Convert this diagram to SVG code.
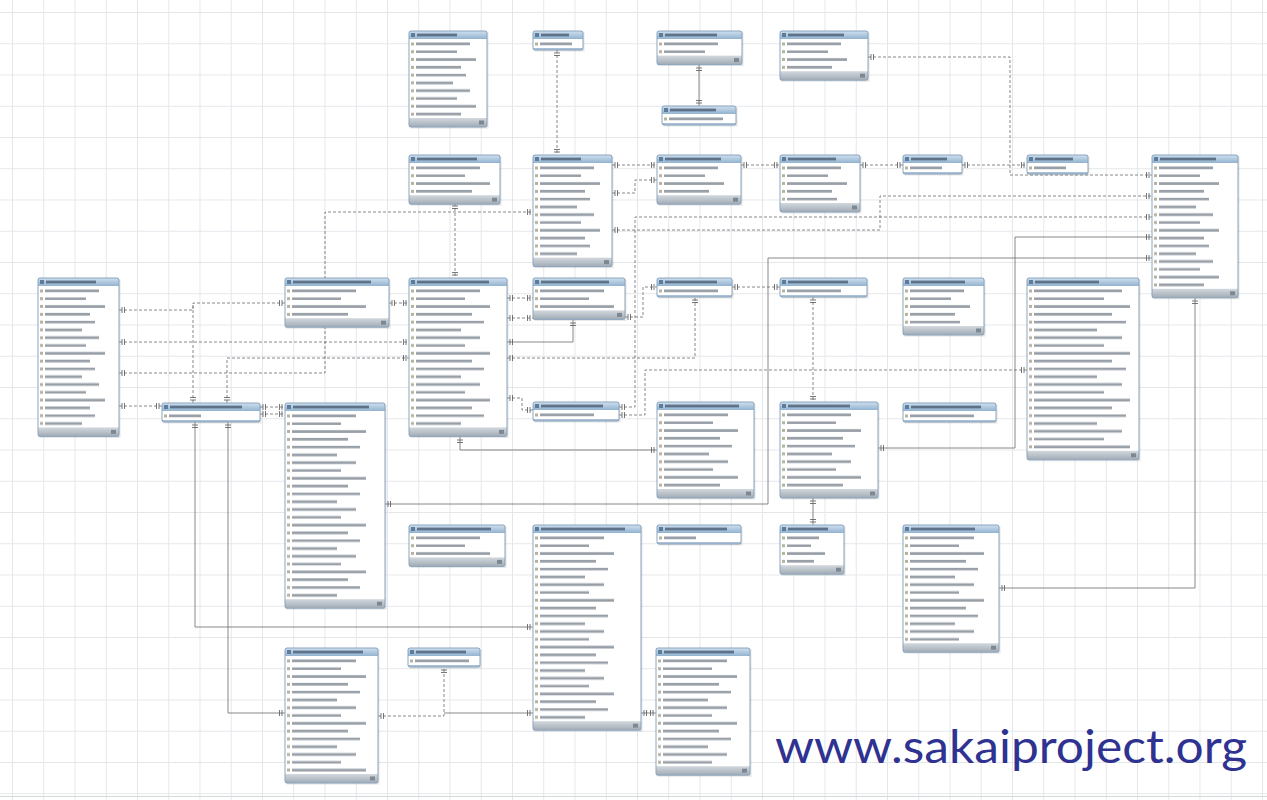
<svg xmlns="http://www.w3.org/2000/svg" width="1267" height="800" viewBox="0 0 1267 800">
<defs>
<pattern id="grid" patternUnits="userSpaceOnUse" x="12" y="12" width="31.25" height="31.25"><path d="M0,0.5H31.25M0.5,0V31.25" fill="none" stroke="#e4e7ea" stroke-width="1"/></pattern>
<linearGradient id="gh" x1="0" y1="0" x2="0" y2="1"><stop offset="0" stop-color="#cfe0ef"/><stop offset="1" stop-color="#93b3d0"/></linearGradient>
<linearGradient id="gf" x1="0" y1="0" x2="0" y2="1"><stop offset="0" stop-color="#d2d8dd"/><stop offset="1" stop-color="#a1abb5"/></linearGradient>
<pattern id="rS" patternUnits="userSpaceOnUse" x="0" y="9" width="200" height="46.8"><path class="ic" d="M2,2.4h3v3h-3zM2,10.2h3v3h-3zM2,18h3v3h-3zM2,25.8h3v3h-3zM2,33.6h3v3h-3zM2,41.4h3v3h-3z"/><path class="tx" d="M7,2.6h32v2.6h-32zM7,10.4h24v2.6h-24zM7,18.2h38v2.6h-38zM7,26h27v2.6h-27zM7,33.8h35v2.6h-35zM7,41.6h21v2.6h-21z"/></pattern>
<pattern id="rM" patternUnits="userSpaceOnUse" x="0" y="9" width="200" height="46.8"><path class="ic" d="M2,2.4h3v3h-3zM2,10.2h3v3h-3zM2,18h3v3h-3zM2,25.8h3v3h-3zM2,33.6h3v3h-3zM2,41.4h3v3h-3z"/><path class="tx" d="M7,2.6h54v2.6h-54zM7,10.4h41v2.6h-41zM7,18.2h60v2.6h-60zM7,26h45v2.6h-45zM7,33.8h50v2.6h-50zM7,41.6h37v2.6h-37z"/></pattern>
<pattern id="rL" patternUnits="userSpaceOnUse" x="0" y="9" width="200" height="46.8"><path class="ic" d="M2,2.4h3v3h-3zM2,10.2h3v3h-3zM2,18h3v3h-3zM2,25.8h3v3h-3zM2,33.6h3v3h-3zM2,41.4h3v3h-3z"/><path class="tx" d="M7,2.6h64v2.6h-64zM7,10.4h49v2.6h-49zM7,18.2h74v2.6h-74zM7,26h56v2.6h-56zM7,33.8h68v2.6h-68zM7,41.6h45v2.6h-45z"/></pattern>
<pattern id="rX" patternUnits="userSpaceOnUse" x="0" y="9" width="200" height="46.8"><path class="ic" d="M2,2.4h3v3h-3zM2,10.2h3v3h-3zM2,18h3v3h-3zM2,25.8h3v3h-3zM2,33.6h3v3h-3zM2,41.4h3v3h-3z"/><path class="tx" d="M7,2.6h88v2.6h-88zM7,10.4h70v2.6h-70zM7,18.2h96v2.6h-96zM7,26h78v2.6h-78zM7,33.8h92v2.6h-92zM7,41.6h63v2.6h-63z"/></pattern>
<marker id="mk" markerUnits="userSpaceOnUse" markerWidth="12" markerHeight="10" viewBox="-10 -5 12 10" refX="0" refY="0" orient="auto-start-reverse"><path d="M-3,-3V3M-5.5,-3V3" fill="none" stroke="#555" stroke-width=".8"/></marker>
<style>
.ic{fill:#b8b29c}
.tx{fill:#989fa7}
.sh{fill:#000;opacity:.1}
.bd{fill:#fff}
.hd{fill:url(#gh)}
.hi{fill:#5d7c9b}
.tt{fill:#3a4f66;opacity:.7}
.ft{fill:url(#gf)}
.fi{fill:#7e8893}
.fb{fill:#a9c0d6}
.ol{fill:none;stroke:#8aa4be;stroke-width:1}
.c{fill:none;stroke:#6b6b6b;stroke-width:.8;marker-start:url(#mk);marker-end:url(#mk)}
.d{stroke-dasharray:3 2}
.ns{marker-end:none}
.nb{marker-start:none}
</style>
</defs>
<rect width="1267" height="800" fill="#fff"/>
<rect width="1267" height="800" fill="url(#grid)"/>
<line x1="0" y1="796.5" x2="1267" y2="796.5" stroke="#d5d8db" stroke-width="1"/>

<g id="connectors">
<path class="c d" d="M557,50V155"/>
<path class="c" d="M699,65V106"/>
<path class="c d" d="M868,57H1010V175H1152"/>
<path class="c d" d="M612,165H657"/>
<path class="c d" d="M741,165H780"/>
<path class="c d" d="M860,165H903"/>
<path class="c d" d="M962,165H1027"/>
<path class="c d" d="M612,193H635V180H657"/>
<path class="c d" d="M612,230H880V196H1152"/>
<path class="c d" d="M619,407H635V217H1152"/>
<path class="c" d="M878,448H1015V237H1152"/>
<path class="c" d="M385,504H768V258H1152"/>
<path class="c d" d="M455,203V278"/>
<path class="c d" d="M119,373H325V212H533"/>
<path class="c d" d="M119,310H193V303H285"/>
<path class="c d ns" d="M193,403V303"/>
<path class="c d" d="M119,342H409"/>
<path class="c d" d="M227,403V358H409"/>
<path class="c d" d="M119,406H162"/>
<path class="c d" d="M260,407H285"/>
<path class="c d" d="M260,414H285"/>
<path class="c d" d="M389,303H409"/>
<path class="c" d="M195,422V627H533"/>
<path class="c" d="M228,422V713H285"/>
<path class="c d" d="M378,716H444V667"/>
<path class="c nb" d="M444,713H533"/>
<path class="c" d="M641,713H656"/>
<path class="c" d="M507,342H573V320"/>
<path class="c d" d="M507,358H695V297"/>
<path class="c d" d="M507,298H533"/>
<path class="c d" d="M507,318H533"/>
<path class="c d" d="M507,398H522V410H533"/>
<path class="c" d="M460,437V450H657"/>
<path class="c d" d="M625,317H643V287H657"/>
<path class="c d" d="M619,415H645V370H1027"/>
<path class="c d" d="M732,287H780"/>
<path class="c d" d="M813,297V402"/>
<path class="c" d="M813,498V525"/>
<path class="c" d="M1195,298V588H999"/>
</g>

<g id="t1" transform="translate(409,31)"><rect class="sh" x="1.5" y="1.5" width="78" height="96"/><rect class="bd" width="78" height="96"/><rect class="hd" width="78" height="8"/><rect class="hi" x="2" y="2" width="4" height="4"/><rect class="tt" x="8" y="2.6" width="40" height="2.8"/><rect fill="url(#rM)" x="1" y="9" width="76" height="78"/><rect class="ft" y="87" width="78" height="9"/><rect class="fi" x="70" y="89.5" width="5" height="4"/><rect class="ol" width="78" height="96" rx="2"/></g>
<g id="t2" transform="translate(533,31)"><rect class="sh" x="1.5" y="1.5" width="50" height="19"/><rect class="bd" width="50" height="19"/><rect class="hd" width="50" height="8"/><rect class="hi" x="2" y="2" width="4" height="4"/><rect class="tt" x="8" y="2.6" width="28" height="2.8"/><rect fill="url(#rS)" x="1" y="9" width="48" height="7.8"/><rect class="fb" y="17" width="50" height="2"/><rect class="ol" width="50" height="19" rx="2"/></g>
<g id="t3" transform="translate(657,31)"><rect class="sh" x="1.5" y="1.5" width="85" height="33.6"/><rect class="bd" width="85" height="33.6"/><rect class="hd" width="85" height="8"/><rect class="hi" x="2" y="2" width="4" height="4"/><rect class="tt" x="8" y="2.6" width="52" height="2.8"/><rect fill="url(#rM)" x="1" y="9" width="83" height="15.6"/><rect class="ft" y="24.6" width="85" height="9"/><rect class="fi" x="77" y="27.1" width="5" height="4"/><rect class="ol" width="85" height="33.6" rx="2"/></g>
<g id="t4" transform="translate(662,106)"><rect class="sh" x="1.5" y="1.5" width="74" height="19"/><rect class="bd" width="74" height="19"/><rect class="hd" width="74" height="8"/><rect class="hi" x="2" y="2" width="4" height="4"/><rect class="tt" x="8" y="2.6" width="46" height="2.8"/><rect fill="url(#rM)" x="1" y="9" width="72" height="7.8"/><rect class="fb" y="17" width="74" height="2"/><rect class="ol" width="74" height="19" rx="2"/></g>
<g id="t5" transform="translate(780,31)"><rect class="sh" x="1.5" y="1.5" width="88" height="49.2"/><rect class="bd" width="88" height="49.2"/><rect class="hd" width="88" height="8"/><rect class="hi" x="2" y="2" width="4" height="4"/><rect class="tt" x="8" y="2.6" width="56" height="2.8"/><rect fill="url(#rM)" x="1" y="9" width="86" height="31.2"/><rect class="ft" y="40.2" width="88" height="9"/><rect class="fi" x="80" y="42.7" width="5" height="4"/><rect class="ol" width="88" height="49.2" rx="2"/></g>
<g id="t6" transform="translate(409,155)"><rect class="sh" x="1.5" y="1.5" width="91" height="49.2"/><rect class="bd" width="91" height="49.2"/><rect class="hd" width="91" height="8"/><rect class="hi" x="2" y="2" width="4" height="4"/><rect class="tt" x="8" y="2.6" width="60" height="2.8"/><rect fill="url(#rL)" x="1" y="9" width="89" height="31.2"/><rect class="ft" y="40.2" width="91" height="9"/><rect class="fi" x="83" y="42.7" width="5" height="4"/><rect class="ol" width="91" height="49.2" rx="2"/></g>
<g id="t7" transform="translate(533,155)"><rect class="sh" x="1.5" y="1.5" width="79" height="111.6"/><rect class="bd" width="79" height="111.6"/><rect class="hd" width="79" height="8"/><rect class="hi" x="2" y="2" width="4" height="4"/><rect class="tt" x="8" y="2.6" width="40" height="2.8"/><rect fill="url(#rM)" x="1" y="9" width="77" height="93.6"/><rect class="ft" y="102.6" width="79" height="9"/><rect class="fi" x="71" y="105.1" width="5" height="4"/><rect class="ol" width="79" height="111.6" rx="2"/></g>
<g id="t8" transform="translate(657,155)"><rect class="sh" x="1.5" y="1.5" width="84" height="49.2"/><rect class="bd" width="84" height="49.2"/><rect class="hd" width="84" height="8"/><rect class="hi" x="2" y="2" width="4" height="4"/><rect class="tt" x="8" y="2.6" width="56" height="2.8"/><rect fill="url(#rM)" x="1" y="9" width="82" height="31.2"/><rect class="ft" y="40.2" width="84" height="9"/><rect class="fi" x="76" y="42.7" width="5" height="4"/><rect class="ol" width="84" height="49.2" rx="2"/></g>
<g id="t9" transform="translate(780,155)"><rect class="sh" x="1.5" y="1.5" width="80" height="57"/><rect class="bd" width="80" height="57"/><rect class="hd" width="80" height="8"/><rect class="hi" x="2" y="2" width="4" height="4"/><rect class="tt" x="8" y="2.6" width="48" height="2.8"/><rect fill="url(#rM)" x="1" y="9" width="78" height="39"/><rect class="ft" y="48" width="80" height="9"/><rect class="fi" x="72" y="50.5" width="5" height="4"/><rect class="ol" width="80" height="57" rx="2"/></g>
<g id="t10" transform="translate(903,155)"><rect class="sh" x="1.5" y="1.5" width="59" height="19"/><rect class="bd" width="59" height="19"/><rect class="hd" width="59" height="8"/><rect class="hi" x="2" y="2" width="4" height="4"/><rect class="tt" x="8" y="2.6" width="36" height="2.8"/><rect fill="url(#rS)" x="1" y="9" width="57" height="7.8"/><rect class="fb" y="17" width="59" height="2"/><rect class="ol" width="59" height="19" rx="2"/></g>
<g id="t11" transform="translate(1027,155)"><rect class="sh" x="1.5" y="1.5" width="61" height="19"/><rect class="bd" width="61" height="19"/><rect class="hd" width="61" height="8"/><rect class="hi" x="2" y="2" width="4" height="4"/><rect class="tt" x="8" y="2.6" width="38" height="2.8"/><rect fill="url(#rS)" x="1" y="9" width="59" height="7.8"/><rect class="fb" y="17" width="61" height="2"/><rect class="ol" width="61" height="19" rx="2"/></g>
<g id="t12" transform="translate(1152,155)"><rect class="sh" x="1.5" y="1.5" width="86" height="142.8"/><rect class="bd" width="86" height="142.8"/><rect class="hd" width="86" height="8"/><rect class="hi" x="2" y="2" width="4" height="4"/><rect class="tt" x="8" y="2.6" width="56" height="2.8"/><rect fill="url(#rM)" x="1" y="9" width="84" height="124.8"/><rect class="ft" y="133.8" width="86" height="9"/><rect class="fi" x="78" y="136.3" width="5" height="4"/><rect class="ol" width="86" height="142.8" rx="2"/></g>
<g id="t13" transform="translate(38,278)"><rect class="sh" x="1.5" y="1.5" width="81" height="158.4"/><rect class="bd" width="81" height="158.4"/><rect class="hd" width="81" height="8"/><rect class="hi" x="2" y="2" width="4" height="4"/><rect class="tt" x="8" y="2.6" width="50" height="2.8"/><rect fill="url(#rM)" x="1" y="9" width="79" height="140.4"/><rect class="ft" y="149.4" width="81" height="9"/><rect class="fi" x="73" y="151.9" width="5" height="4"/><rect class="ol" width="81" height="158.4" rx="2"/></g>
<g id="t14" transform="translate(285,278)"><rect class="sh" x="1.5" y="1.5" width="104" height="49.2"/><rect class="bd" width="104" height="49.2"/><rect class="hd" width="104" height="8"/><rect class="hi" x="2" y="2" width="4" height="4"/><rect class="tt" x="8" y="2.6" width="78" height="2.8"/><rect fill="url(#rL)" x="1" y="9" width="102" height="31.2"/><rect class="ft" y="40.2" width="104" height="9"/><rect class="fi" x="96" y="42.7" width="5" height="4"/><rect class="ol" width="104" height="49.2" rx="2"/></g>
<g id="t15" transform="translate(409,278)"><rect class="sh" x="1.5" y="1.5" width="98" height="158.4"/><rect class="bd" width="98" height="158.4"/><rect class="hd" width="98" height="8"/><rect class="hi" x="2" y="2" width="4" height="4"/><rect class="tt" x="8" y="2.6" width="72" height="2.8"/><rect fill="url(#rL)" x="1" y="9" width="96" height="140.4"/><rect class="ft" y="149.4" width="98" height="9"/><rect class="fi" x="90" y="151.9" width="5" height="4"/><rect class="ol" width="98" height="158.4" rx="2"/></g>
<g id="t16" transform="translate(533,278)"><rect class="sh" x="1.5" y="1.5" width="92" height="41.4"/><rect class="bd" width="92" height="41.4"/><rect class="hd" width="92" height="8"/><rect class="hi" x="2" y="2" width="4" height="4"/><rect class="tt" x="8" y="2.6" width="68" height="2.8"/><rect fill="url(#rL)" x="1" y="9" width="90" height="23.4"/><rect class="ft" y="32.4" width="92" height="9"/><rect class="fi" x="84" y="34.9" width="5" height="4"/><rect class="ol" width="92" height="41.4" rx="2"/></g>
<g id="t17" transform="translate(657,278)"><rect class="sh" x="1.5" y="1.5" width="75" height="19"/><rect class="bd" width="75" height="19"/><rect class="hd" width="75" height="8"/><rect class="hi" x="2" y="2" width="4" height="4"/><rect class="tt" x="8" y="2.6" width="52" height="2.8"/><rect fill="url(#rM)" x="1" y="9" width="73" height="7.8"/><rect class="fb" y="17" width="75" height="2"/><rect class="ol" width="75" height="19" rx="2"/></g>
<g id="t18" transform="translate(780,278)"><rect class="sh" x="1.5" y="1.5" width="87" height="19"/><rect class="bd" width="87" height="19"/><rect class="hd" width="87" height="8"/><rect class="hi" x="2" y="2" width="4" height="4"/><rect class="tt" x="8" y="2.6" width="60" height="2.8"/><rect fill="url(#rM)" x="1" y="9" width="85" height="7.8"/><rect class="fb" y="17" width="87" height="2"/><rect class="ol" width="87" height="19" rx="2"/></g>
<g id="t19" transform="translate(903,278)"><rect class="sh" x="1.5" y="1.5" width="81" height="57"/><rect class="bd" width="81" height="57"/><rect class="hd" width="81" height="8"/><rect class="hi" x="2" y="2" width="4" height="4"/><rect class="tt" x="8" y="2.6" width="54" height="2.8"/><rect fill="url(#rM)" x="1" y="9" width="79" height="39"/><rect class="ft" y="48" width="81" height="9"/><rect class="fi" x="73" y="50.5" width="5" height="4"/><rect class="ol" width="81" height="57" rx="2"/></g>
<g id="t20" transform="translate(1027,278)"><rect class="sh" x="1.5" y="1.5" width="112" height="181.8"/><rect class="bd" width="112" height="181.8"/><rect class="hd" width="112" height="8"/><rect class="hi" x="2" y="2" width="4" height="4"/><rect class="tt" x="8" y="2.6" width="64" height="2.8"/><rect fill="url(#rX)" x="1" y="9" width="110" height="163.8"/><rect class="ft" y="172.8" width="112" height="9"/><rect class="fi" x="104" y="175.3" width="5" height="4"/><rect class="ol" width="112" height="181.8" rx="2"/></g>
<g id="t21" transform="translate(162,403)"><rect class="sh" x="1.5" y="1.5" width="98" height="19"/><rect class="bd" width="98" height="19"/><rect class="hd" width="98" height="8"/><rect class="hi" x="2" y="2" width="4" height="4"/><rect class="tt" x="8" y="2.6" width="72" height="2.8"/><rect fill="url(#rS)" x="1" y="9" width="96" height="7.8"/><rect class="fb" y="17" width="98" height="2"/><rect class="ol" width="98" height="19" rx="2"/></g>
<g id="t22" transform="translate(285,403)"><rect class="sh" x="1.5" y="1.5" width="100" height="205.2"/><rect class="bd" width="100" height="205.2"/><rect class="hd" width="100" height="8"/><rect class="hi" x="2" y="2" width="4" height="4"/><rect class="tt" x="8" y="2.6" width="76" height="2.8"/><rect fill="url(#rL)" x="1" y="9" width="98" height="187.2"/><rect class="ft" y="196.2" width="100" height="9"/><rect class="fi" x="92" y="198.7" width="5" height="4"/><rect class="ol" width="100" height="205.2" rx="2"/></g>
<g id="t23" transform="translate(533,402)"><rect class="sh" x="1.5" y="1.5" width="86" height="19"/><rect class="bd" width="86" height="19"/><rect class="hd" width="86" height="8"/><rect class="hi" x="2" y="2" width="4" height="4"/><rect class="tt" x="8" y="2.6" width="62" height="2.8"/><rect fill="url(#rM)" x="1" y="9" width="84" height="7.8"/><rect class="fb" y="17" width="86" height="2"/><rect class="ol" width="86" height="19" rx="2"/></g>
<g id="t24" transform="translate(657,402)"><rect class="sh" x="1.5" y="1.5" width="97" height="96"/><rect class="bd" width="97" height="96"/><rect class="hd" width="97" height="8"/><rect class="hi" x="2" y="2" width="4" height="4"/><rect class="tt" x="8" y="2.6" width="74" height="2.8"/><rect fill="url(#rL)" x="1" y="9" width="95" height="78"/><rect class="ft" y="87" width="97" height="9"/><rect class="fi" x="89" y="89.5" width="5" height="4"/><rect class="ol" width="97" height="96" rx="2"/></g>
<g id="t25" transform="translate(780,402)"><rect class="sh" x="1.5" y="1.5" width="98" height="96"/><rect class="bd" width="98" height="96"/><rect class="hd" width="98" height="8"/><rect class="hi" x="2" y="2" width="4" height="4"/><rect class="tt" x="8" y="2.6" width="62" height="2.8"/><rect fill="url(#rL)" x="1" y="9" width="96" height="78"/><rect class="ft" y="87" width="98" height="9"/><rect class="fi" x="90" y="89.5" width="5" height="4"/><rect class="ol" width="98" height="96" rx="2"/></g>
<g id="t26" transform="translate(903,403)"><rect class="sh" x="1.5" y="1.5" width="93" height="19"/><rect class="bd" width="93" height="19"/><rect class="hd" width="93" height="8"/><rect class="hi" x="2" y="2" width="4" height="4"/><rect class="tt" x="8" y="2.6" width="70" height="2.8"/><rect fill="url(#rL)" x="1" y="9" width="91" height="7.8"/><rect class="fb" y="17" width="93" height="2"/><rect class="ol" width="93" height="19" rx="2"/></g>
<g id="t27" transform="translate(409,525)"><rect class="sh" x="1.5" y="1.5" width="96" height="41.4"/><rect class="bd" width="96" height="41.4"/><rect class="hd" width="96" height="8"/><rect class="hi" x="2" y="2" width="4" height="4"/><rect class="tt" x="8" y="2.6" width="74" height="2.8"/><rect fill="url(#rL)" x="1" y="9" width="94" height="23.4"/><rect class="ft" y="32.4" width="96" height="9"/><rect class="fi" x="88" y="34.9" width="5" height="4"/><rect class="ol" width="96" height="41.4" rx="2"/></g>
<g id="t28" transform="translate(533,525)"><rect class="sh" x="1.5" y="1.5" width="108" height="205.2"/><rect class="bd" width="108" height="205.2"/><rect class="hd" width="108" height="8"/><rect class="hi" x="2" y="2" width="4" height="4"/><rect class="tt" x="8" y="2.6" width="84" height="2.8"/><rect fill="url(#rL)" x="1" y="9" width="106" height="187.2"/><rect class="ft" y="196.2" width="108" height="9"/><rect class="fi" x="100" y="198.7" width="5" height="4"/><rect class="ol" width="108" height="205.2" rx="2"/></g>
<g id="t29" transform="translate(657,525)"><rect class="sh" x="1.5" y="1.5" width="84" height="19"/><rect class="bd" width="84" height="19"/><rect class="hd" width="84" height="8"/><rect class="hi" x="2" y="2" width="4" height="4"/><rect class="tt" x="8" y="2.6" width="62" height="2.8"/><rect fill="url(#rS)" x="1" y="9" width="82" height="7.8"/><rect class="fb" y="17" width="84" height="2"/><rect class="ol" width="84" height="19" rx="2"/></g>
<g id="t30" transform="translate(780,525)"><rect class="sh" x="1.5" y="1.5" width="64" height="49.2"/><rect class="bd" width="64" height="49.2"/><rect class="hd" width="64" height="8"/><rect class="hi" x="2" y="2" width="4" height="4"/><rect class="tt" x="8" y="2.6" width="40" height="2.8"/><rect fill="url(#rS)" x="1" y="9" width="62" height="31.2"/><rect class="ft" y="40.2" width="64" height="9"/><rect class="fi" x="56" y="42.7" width="5" height="4"/><rect class="ol" width="64" height="49.2" rx="2"/></g>
<g id="t31" transform="translate(903,525)"><rect class="sh" x="1.5" y="1.5" width="96" height="127.2"/><rect class="bd" width="96" height="127.2"/><rect class="hd" width="96" height="8"/><rect class="hi" x="2" y="2" width="4" height="4"/><rect class="tt" x="8" y="2.6" width="64" height="2.8"/><rect fill="url(#rL)" x="1" y="9" width="94" height="109.2"/><rect class="ft" y="118.2" width="96" height="9"/><rect class="fi" x="88" y="120.7" width="5" height="4"/><rect class="ol" width="96" height="127.2" rx="2"/></g>
<g id="t32" transform="translate(285,648)"><rect class="sh" x="1.5" y="1.5" width="93" height="135"/><rect class="bd" width="93" height="135"/><rect class="hd" width="93" height="8"/><rect class="hi" x="2" y="2" width="4" height="4"/><rect class="tt" x="8" y="2.6" width="70" height="2.8"/><rect fill="url(#rL)" x="1" y="9" width="91" height="117"/><rect class="ft" y="126" width="93" height="9"/><rect class="fi" x="85" y="128.5" width="5" height="4"/><rect class="ol" width="93" height="135" rx="2"/></g>
<g id="t33" transform="translate(408,648)"><rect class="sh" x="1.5" y="1.5" width="72" height="19"/><rect class="bd" width="72" height="19"/><rect class="hd" width="72" height="8"/><rect class="hi" x="2" y="2" width="4" height="4"/><rect class="tt" x="8" y="2.6" width="50" height="2.8"/><rect fill="url(#rM)" x="1" y="9" width="70" height="7.8"/><rect class="fb" y="17" width="72" height="2"/><rect class="ol" width="72" height="19" rx="2"/></g>
<g id="t34" transform="translate(656,648)"><rect class="sh" x="1.5" y="1.5" width="94" height="127.2"/><rect class="bd" width="94" height="127.2"/><rect class="hd" width="94" height="8"/><rect class="hi" x="2" y="2" width="4" height="4"/><rect class="tt" x="8" y="2.6" width="70" height="2.8"/><rect fill="url(#rL)" x="1" y="9" width="92" height="109.2"/><rect class="ft" y="118.2" width="94" height="9"/><rect class="fi" x="86" y="120.7" width="5" height="4"/><rect class="ol" width="94" height="127.2" rx="2"/></g>

<g id="url"><text x="775" y="763" font-family="Lato, 'Open Sans', 'Liberation Sans', sans-serif" font-size="46" fill="#2f3290" textLength="472" lengthAdjust="spacingAndGlyphs">www.sakaiproject.org</text></g>
</svg>
